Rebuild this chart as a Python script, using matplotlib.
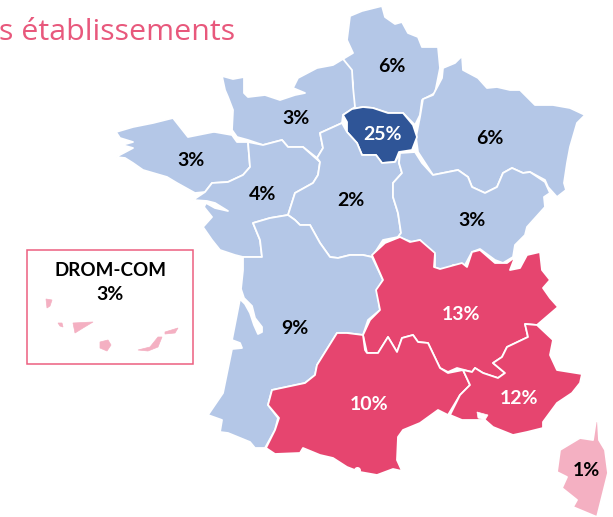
import matplotlib
matplotlib.use("Agg")
import matplotlib.pyplot as plt
from matplotlib.patches import Polygon, Rectangle

regions = ["Hauts-de-France", "Grand Est", "Normandie", "Île-de-France", "Bretagne",
           "Pays de la Loire", "Centre-Val de Loire", "Bourgogne-Franche-Comté",
           "Nouvelle-Aquitaine", "Auvergne-Rhône-Alpes", "Occitanie", "PACA", "Corse"]
shares = [6, 6, 3, 25, 3, 4, 2, 3, 9, 13, 10, 12, 1]
drom_share = 3
title = "s établissements"

LIGHT = "#B4C7E7"; DARK = "#2F5597"; RED = "#E6456F"; PINK = "#F4B0C2"
colors = [LIGHT, LIGHT, LIGHT, DARK, LIGHT, LIGHT, LIGHT, LIGHT, LIGHT, RED, RED, RED, PINK]
label_colors = ["black", "black", "black", "white", "black", "black", "black", "black",
                "black", "white", "white", "white", "black"]
label_xy = [(392, 67), (490, 138), (296, 118), (383, 134), (191, 160), (263, 195), (351, 201),
            (472, 220), (295, 329), (461, 315), (369, 405), (519, 399), (586, 471)]

shapes = {
 "Hauts-de-France": [(350,16),(362,11),(382,6),(385,17),(395,24),(402,22),(408,33),(418,37),(422,47),(438,47),(440,68),(435,93),(422,100),(420,115),(415,125),(403,113),(388,113),(373,108),(363,107),(352,109),(353,83),(350,70),(343,59),(353,53),(347,40)],
 "Grand Est": [(443,68),(455,63),(462,56),(463,70),(478,78),(487,88),(497,87),(510,90),(520,90),(535,105),(553,105),(570,108),(585,115),(577,123),(570,147),(567,163),(564,183),(566,190),(557,197),(548,187),(545,180),(530,172),(523,173),(512,168),(503,173),(497,187),(485,193),(472,187),(468,177),(458,170),(433,175),(418,152),(416,137),(420,117),(423,99),(433,95),(442,78)],
 "Normandie": [(222,76),(233,79),(244,77),(244,93),(248,97),(265,95),(280,100),(295,95),(305,93),(293,88),(298,78),(317,68),(333,65),(343,59),(352,70),(353,87),(355,107),(343,115),(342,123),(320,133),(323,148),(317,158),(303,147),(288,147),(282,140),(263,145),(248,140),(237,137),(232,130),(233,110),(228,97),(225,90)],
 "Île-de-France": [(343,115),(352,109),(363,107),(373,108),(388,113),(403,113),(413,125),(417,137),(412,150),(399,152),(395,162),(382,163),(376,155),(362,155),(357,143),(347,132),(347,122)],
 "Bretagne": [(116,132),(133,127),(153,123),(173,118),(188,137),(213,132),(215,132),(232,135),(237,142),(248,142),(250,167),(243,175),(228,182),(212,183),(205,192),(195,193),(177,183),(167,177),(143,170),(133,163),(125,158),(116,157),(133,148),(122,145),(133,142),(120,138)],
 "Pays de la Loire": [(248,142),(263,145),(282,140),(288,147),(303,147),(320,162),(318,175),(313,183),(295,193),(288,215),(270,218),(253,223),(260,240),(262,257),(243,257),(235,255),(220,250),(212,240),(203,227),(212,217),(204,207),(206,203),(215,208),(228,211),(215,203),(207,201),(193,200),(205,192),(212,183),(228,182),(243,175),(250,167)],
 "Centre-Val de Loire": [(320,133),(342,123),(347,132),(357,143),(362,155),(376,155),(382,163),(395,162),(400,153),(399,163),(402,173),(393,183),(393,197),(398,213),(401,233),(398,237),(383,240),(372,257),(363,255),(350,255),(338,258),(330,257),(320,243),(310,225),(300,225),(295,220),(288,215),(295,193),(313,183),(318,175),(320,162),(317,158),(323,148)],
 "Bourgogne-Franche-Comté": [(415,152),(422,163),(433,175),(458,170),(468,177),(472,187),(485,193),(497,187),(503,173),(512,168),(523,173),(530,172),(545,182),(550,193),(544,197),(545,207),(527,227),(525,235),(515,245),(513,257),(503,263),(495,260),(480,249),(472,252),(465,265),(453,265),(447,270),(435,268),(435,255),(420,240),(412,242),(398,237),(401,233),(398,213),(393,197),(393,183),(402,173),(399,163),(400,153)],
 "Nouvelle-Aquitaine": [(253,223),(260,240),(262,257),(243,257),(243,270),(241,289),(244,298),(252,306),(255,318),(262,327),(262,332),(258,334),(254,325),(250,313),(245,304),(240,299),(232,340),(240,343),(242,348),(232,349),(223,393),(208,415),(222,420),(220,432),(228,433),(250,442),(255,448),(265,448),(275,430),(278,418),(268,405),(272,390),(305,383),(315,375),(317,365),(337,333),(347,333),(363,335),(368,320),(380,310),(377,290),(383,280),(372,257),(363,255),(350,255),(338,258),(330,257),(320,243),(310,225),(300,225),(295,220),(288,215),(270,218)],
 "Auvergne-Rhône-Alpes": [(372,255),(385,243),(400,237),(410,242),(420,240),(435,253),(434,267),(440,269),(462,263),(467,267),(472,252),(480,250),(495,263),(507,263),(515,257),(510,270),(520,268),(527,255),(540,252),(542,270),(550,280),(543,288),(550,298),(558,307),(537,325),(525,324),(528,337),(507,347),(502,357),(493,363),(505,373),(498,378),(483,373),(475,368),(472,372),(457,368),(448,372),(440,368),(428,343),(418,342),(413,335),(402,338),(397,352),(388,337),(378,353),(367,353),(363,335),(370,320),(380,310),(376,290),(383,280)],
 "Occitanie": [(272,390),(305,383),(315,375),(317,365),(337,333),(347,333),(363,335),(365,350),(367,353),(378,353),(388,337),(397,352),(402,338),(413,335),(418,342),(428,343),(440,368),(448,373),(463,370),(470,385),(460,395),(448,415),(438,410),(420,423),(403,430),(398,437),(397,460),(402,471),(393,469),(377,475),(360,472),(347,467),(333,458),(320,455),(303,448),(300,453),(275,454),(266,448),(275,430),(279,418),(268,405)],
 "PACA": [(537,325),(553,340),(550,355),(557,370),(582,374),(580,383),(572,393),(557,403),(543,422),(543,428),(527,432),(513,435),(493,427),(485,420),(478,420),(472,420),(462,420),(450,415),(460,395),(470,385),(463,370),(472,372),(475,368),(483,373),(498,378),(505,373),(493,363),(502,357),(507,347),(528,337),(525,324)],
 "Corse": [(596,420),(598,422),(599,440),(605,450),(608,473),(602,497),(597,517),(573,507),(577,500),(562,488),(567,477),(557,472),(560,450),(580,438),(593,440)],
}
drom_islands = [
 [(46,299),(52,300),(50,306),(47,308)],
 [(58,323),(62,323),(63,327),(60,326)],
 [(73,323),(93,322),(83,328),(75,333)],
 [(100,342),(108,340),(111,345),(107,351),(100,348)],
 [(138,350),(150,347),(158,337),(162,337),(158,347),(148,351)],
 [(165,332),(178,328),(175,333),(165,334)],
]
etang = [(477,412),(488,415),(485,420),(478,418)]

fig = plt.figure(figsize=(6.13, 5.17), dpi=100)
ax = fig.add_axes([0, 0, 1, 1])
ax.set_xlim(0, 613); ax.set_ylim(517, 0); ax.axis("off")

for name, col in zip(regions, colors):
    ax.add_patch(Polygon(shapes[name], closed=True, facecolor=col, edgecolor="white", linewidth=1.3, joinstyle="round"))
ax.add_patch(Polygon(etang, closed=True, facecolor="white", edgecolor="white", linewidth=0.5))
ax.plot([357], [470], "o", color="white", ms=4)

for isl in drom_islands:
    ax.add_patch(Polygon(isl, closed=True, facecolor=PINK, edgecolor=PINK, linewidth=0.5))
ax.add_patch(Rectangle((27, 250), 166, 114, facecolor="none", edgecolor="#EC5F80", linewidth=1.1))

for s, (x, y), c in zip(shares, label_xy, label_colors):
    ax.text(x, y, f"{s}%", color=c, fontsize=14, fontweight="bold", family="Lato", ha="center", va="center")
ax.text(110, 271, "DROM-COM", fontsize=13.5, fontweight="bold", family="Lato", ha="center", va="center", color="black")
ax.text(110, 295, f"{drom_share}%", fontsize=14, fontweight="bold", family="Lato", ha="center", va="center", color="black")
ax.text(-1, 40, title, fontsize=21.9, family="Open Sans", color="#E8587C", ha="left", va="baseline")

fig.savefig("out.png", dpi=100)
